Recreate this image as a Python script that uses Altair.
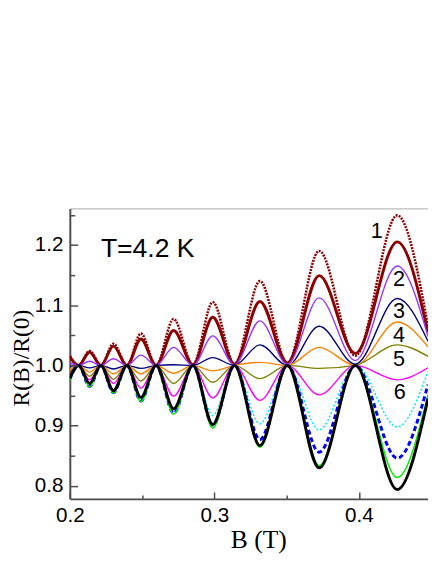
import altair as alt
import pandas as pd

# ---- data ----
B_PTS = [0.2000, 0.2061, 0.2137, 0.2215, 0.2302, 0.2395, 0.2492, 0.2597, 0.2718,
         0.2852, 0.2989, 0.3139, 0.3315, 0.3505, 0.3725, 0.3975, 0.4265, 0.4478]

C1_DOTTED = [1.016, 1.000, 1.024, 1.000, 1.036, 1.000, 1.053, 1.000, 1.077,
             1.001, 1.105, 1.002, 1.140, 1.004, 1.190, 1.016, 1.249, 1.065]
C1_SOLID = [1.014, 1.000, 1.022, 1.000, 1.032, 1.000, 1.044, 1.000, 1.058,
            1.001, 1.080, 1.002, 1.106, 1.004, 1.149, 1.020, 1.205, 1.055]
C2_VIOLET = [1.004, 1.000, 1.007, 1.000, 1.011, 1.000, 1.017, 1.000, 1.030,
             1.000, 1.049, 1.001, 1.074, 1.002, 1.112, 1.008, 1.165, 1.048]
C3_NAVY = [0.998, 1.000, 0.996, 1.000, 0.994, 1.000, 0.995, 1.000, 1.001,
           1.000, 1.013, 1.000, 1.034, 1.000, 1.065, 1.002, 1.111, 1.040]
C4_ORANGE = [0.993, 1.000, 0.989, 1.000, 0.986, 1.000, 0.986, 1.000, 0.987,
             1.000, 0.991, 1.000, 1.005, 1.000, 1.030, 1.000, 1.072, 1.031]
C5_OLIVE = [0.988, 1.000, 0.982, 1.000, 0.977, 1.000, 0.974, 1.000, 0.970,
            1.000, 0.972, 1.000, 0.978, 1.000, 0.995, 1.000, 1.034, 1.015]
C6_MAGENTA = [0.984, 1.000, 0.976, 1.000, 0.970, 1.000, 0.962, 1.000, 0.949,
              1.000, 0.946, 1.000, 0.942, 1.000, 0.951, 1.000, 0.976, 0.996]
C_CYAN = [0.978, 1.000, 0.967, 1.000, 0.956, 1.000, 0.943, 1.000, 0.928,
          1.000, 0.917, 1.000, 0.903, 1.000, 0.893, 1.000, 0.898, 0.990]
C_BLUE = [0.977, 1.000, 0.965, 1.000, 0.955, 1.000, 0.941, 1.000, 0.921,
          1.000, 0.901, 1.000, 0.877, 1.000, 0.856, 1.000, 0.846, 0.968]
C_GREEN = [0.976, 1.000, 0.964, 1.000, 0.954, 1.000, 0.940, 1.000, 0.919,
           1.000, 0.896, 1.000, 0.864, 1.000, 0.834, 1.000, 0.814, 0.952]
C_BLACK = [0.979, 1.000, 0.970, 1.000, 0.958, 1.000, 0.947, 1.000, 0.928,
           1.000, 0.902, 1.000, 0.867, 1.000, 0.830, 1.000, 0.794, 0.945]

LABEL_TEXT = ["1", "2", "3", "4", "5", "6"]
LABEL_B = [0.4124, 0.4278, 0.4278, 0.4278, 0.4278, 0.4282]
LABEL_R = [1.2226, 1.1433, 1.0906, 1.0510, 1.0107, 0.9550]

TITLE_TEXT = ["T=4.2 K"]
TITLE_B = [0.2215]
TITLE_R = [1.180]

X_TICKS = [0.2, 0.3, 0.4]
X_MINOR = [0.25, 0.35]
Y_TICKS = [0.8, 0.9, 1.0, 1.1, 1.2]
Y_MINOR = [0.85, 0.95, 1.05, 1.15, 1.25]

# ---- layout ----
W, H = 365, 296
xs = alt.Scale(domain=[0.2, 0.4478], nice=False, zero=False)
ys = alt.Scale(domain=[0.7785, 1.2606], nice=False, zero=False)
AX = "#4d4d4d"

x_main = alt.Axis(values=X_TICKS, format=".1f", orient="bottom", ticks=False, tickSize=0,
                  domain=True, domainColor=AX, domainWidth=2, grid=False,
                  labelFont="Liberation Sans", labelFontSize=21, labelColor="black",
                  labelPadding=6, labelFlush=False, labelOverlap=False,
                  title="B (T)", titleFont="Liberation Serif", titleFontSize=26,
                  titleFontWeight="normal", titleColor="black", titleX=192, titleY=50,
                  titleBaseline="alphabetic", titleAlign="center")
y_main = alt.Axis(values=Y_TICKS, format=".1f", orient="left", ticks=False, tickSize=0,
                  domain=True, domainColor=AX, domainWidth=2, grid=False,
                  labelFont="Liberation Sans", labelFontSize=21, labelColor="black",
                  labelPadding=7, labelFlush=False, labelOverlap=False,
                  title="R(B)/R(0)", titleFont="Liberation Serif", titleFontSize=24,
                  titleFontWeight="normal", titleColor="black", titleX=-42, titleY=152,
                  titleAngle=270, titleBaseline="alphabetic", titleAlign="center")

series = [
    (C1_DOTTED, "#8b0000", 2.6, [2, 1.2]),
    (C1_SOLID, "#8b0000", 3.0, None),
    (C2_VIOLET, "#9933ff", 1.4, None),
    (C3_NAVY, "#000080", 1.4, None),
    (C4_ORANGE, "#ff8000", 1.4, None),
    (C5_OLIVE, "#808000", 1.4, None),
    (C6_MAGENTA, "#ff00ff", 1.4, None),
    (C_CYAN, "#00e5ff", 1.5, [2, 2]),
    (C_BLUE, "#0000ff", 3.0, [5, 3]),
    (C_GREEN, "#00ee00", 1.5, None),
    (C_BLACK, "#000000", 3.0, None),
]

layers = []
for i, (vals, col, sw, dash) in enumerate(series):
    df = pd.DataFrame({"B": B_PTS, "R": vals})
    mk = dict(color=col, strokeWidth=sw, interpolate="monotone", clip=True)
    if dash:
        mk["strokeDash"] = dash
    layers.append(
        alt.Chart(df).mark_line(**mk).encode(
            x=alt.X("B:Q", scale=xs, axis=x_main if i == 0 else None),
            y=alt.Y("R:Q", scale=ys, axis=y_main if i == 0 else None),
        )
    )

lab_df = pd.DataFrame({"B": LABEL_B, "R": LABEL_R, "t": LABEL_TEXT})
layers.append(
    alt.Chart(lab_df).mark_text(font="Liberation Sans", fontSize=22, color="black",
                                align="center", baseline="middle").encode(
        x=alt.X("B:Q", scale=xs, axis=None), y=alt.Y("R:Q", scale=ys, axis=None), text="t:N")
)
tt_df = pd.DataFrame({"B": TITLE_B, "R": TITLE_R, "t": TITLE_TEXT})
layers.append(
    alt.Chart(tt_df).mark_text(font="Liberation Sans", fontSize=27, color="black",
                               align="left", baseline="alphabetic").encode(
        x=alt.X("B:Q", scale=xs, axis=None), y=alt.Y("R:Q", scale=ys, axis=None), text="t:N")
)


def tick_layer(xv, yv, xsize, ysize):
    d = pd.DataFrame({"B": [xv[0]], "R": [yv[0]]})
    return alt.Chart(d).mark_point(opacity=0).encode(
        x=alt.X("B:Q", scale=xs, axis=alt.Axis(values=xv, orient="top", offset=-H, domain=False,
                                                labels=False, ticks=True, tickSize=xsize,
                                                tickColor=AX, tickWidth=1.5, grid=False,
                                                title=None, zindex=1)),
        y=alt.Y("R:Q", scale=ys, axis=alt.Axis(values=yv, orient="right", offset=-W, domain=False,
                                                labels=False, ticks=True, tickSize=ysize,
                                                tickColor=AX, tickWidth=1.5, grid=False,
                                                title=None, zindex=1)),
    )


layers.append(tick_layer(X_TICKS, Y_TICKS, 7, 8))
layers.append(tick_layer(X_MINOR, Y_MINOR, 4, 5))

frame = alt.Chart(pd.DataFrame({"B": [0.3], "R": [1.0]})).mark_point(opacity=0).encode(
    x=alt.X("B:Q", scale=xs, axis=alt.Axis(orient="top", domain=True, domainColor="#a8a8a8",
                                            domainWidth=1, ticks=False, labels=False,
                                            grid=False, title=None)),
    y=alt.Y("R:Q", scale=ys, axis=None),
)
layers.append(frame)

chart = alt.layer(*layers).resolve_axis(x="independent", y="independent").properties(
    width=W, height=H,
    autosize=alt.AutoSizeParams(type="none"),
    padding={"left": 63, "top": 199, "right": 0, "bottom": 53},
).configure_view(stroke=None)

chart.save("out.html", embed_options={"renderer": "svg", "actions": False})
